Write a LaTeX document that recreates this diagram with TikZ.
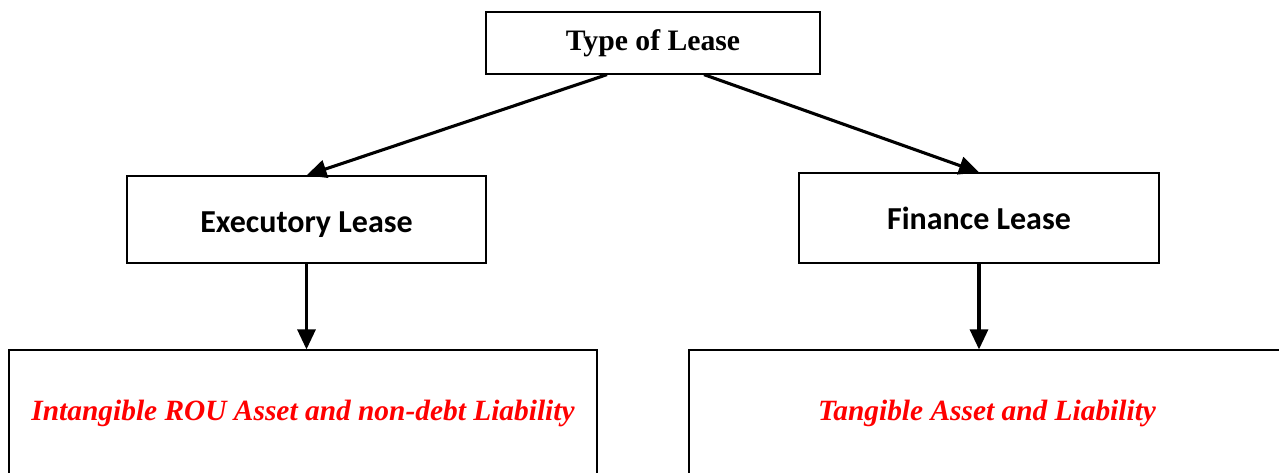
\documentclass[tikz,border=0pt]{standalone}
\usepackage{fontspec}
\setmainfont{Liberation Serif}
\newfontfamily\calfont{Carlito}
\usetikzlibrary{arrows.meta,calc}
\definecolor{leasered}{RGB}{255,0,0}
\tikzset{
  box/.style={draw=black, line width=1.2pt, rectangle, inner sep=0pt, fill=white},
  titlebox/.style={box, font=\fontsize{29.7}{34}\selectfont\bfseries},
  kindbox/.style={box, font=\calfont\fontsize{32}{38}\selectfont\bfseries},
  resultbox/.style={box, text=leasered, font=\fontsize{29.4}{34}\selectfont\bfseries\itshape},
  link/.style={line width=3.1pt, -{Triangle[length=20pt,width=18pt]}}
}
\begin{document}
\begin{tikzpicture}[x=1pt,y=-1pt]
\clip (0,0) rectangle (1279,472);
\fill[white] (0,0) rectangle (1279,472);

\node[titlebox, minimum width=334pt, minimum height=62pt] (top) at (653,43) {Type of Lease};
\node[kindbox, minimum width=359pt, minimum height=87pt] (exe) at (306.5,219.5) {\raisebox{-5pt}[\height][\depth]{Executory Lease}};
\node[kindbox, minimum width=360pt, minimum height=90pt] (fin) at (979,218) {Finance Lease};
\node[resultbox, minimum width=588pt, minimum height=126pt] (intang) at (303,413) {Intangible ROU Asset and non-debt Liability};
\node[resultbox, minimum width=596pt, minimum height=126pt] (tang) at (987,413) {Tangible Asset and Liability};

\coordinate (topL) at ($(top.south)+(-46,0)$);
\coordinate (topR) at ($(top.south)+(51,0)$);

\draw[link] (topL) -- (exe.north);
\draw[link] (topR) -- (fin.north);
\draw[link] (exe.south) -- (exe.south |- intang.north);
\draw[link] (fin.south) -- (fin.south |- tang.north);
\end{tikzpicture}
\end{document}
